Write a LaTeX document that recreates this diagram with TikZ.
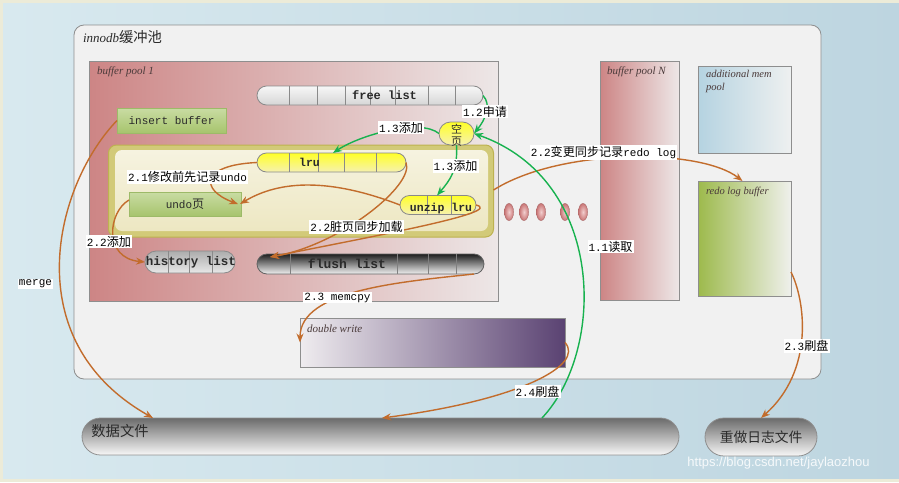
\documentclass[tikz,border=0pt]{standalone}
\usepackage{fontspec}
\setmainfont{Liberation Serif}
\setmonofont{Liberation Mono}
\setsansfont{Liberation Sans}
\newfontfamily\cjk[Scale=1.1]{Noto Sans CJK SC}
\usetikzlibrary{arrows.meta,calc}
\definecolor{beige}{HTML}{ECEBD8}
\definecolor{bgl}{HTML}{D8E9EF}
\definecolor{bgr}{HTML}{BDD5E0}
\definecolor{mainfill}{HTML}{F1F1F1}
\definecolor{maindraw}{HTML}{8E8E8E}
\definecolor{bpl}{HTML}{CD8585}
\definecolor{bpr}{HTML}{EDE7E7}
\definecolor{yout}{HTML}{D2CA78}
\definecolor{youtd}{HTML}{BDB250}
\definecolor{yint}{HTML}{F6F3E0}
\definecolor{yintm}{HTML}{DCD396}
\definecolor{yintb}{HTML}{EDE7C2}
\definecolor{yelt}{HTML}{FFFF28}
\definecolor{yelb}{HTML}{F6F1B0}
\definecolor{grt}{HTML}{C9DCA3}
\definecolor{grb}{HTML}{A7C46D}
\definecolor{grd}{HTML}{9DBA68}
\definecolor{gpt}{HTML}{F7F7F7}
\definecolor{gpb}{HTML}{D6D6D6}
\definecolor{divc}{HTML}{8A8A8A}
\definecolor{orng}{HTML}{C26C2C}
\definecolor{grn}{HTML}{17B24F}
\definecolor{ttlc}{HTML}{4A3A3A}
\definecolor{addl}{HTML}{B5D3E1}
\definecolor{addr}{HTML}{EEF0F0}
\definecolor{rlbl}{HTML}{9DBA4C}
\definecolor{rlbr}{HTML}{EFF0EC}
\definecolor{dwl}{HTML}{EFECEF}
\definecolor{dwr}{HTML}{5A4272}
\definecolor{darktxt}{HTML}{2A2A2A}
\definecolor{ellin}{HTML}{F2CFCF}
\definecolor{ellout}{HTML}{C97575}
\begin{document}
\begin{tikzpicture}[x=1pt,y=-1pt,
  every node/.style={inner sep=0pt,outer sep=0pt},
  boxnode/.style={draw=maindraw,line width=0.8pt,anchor=center},
  oarr/.style={draw=orng,line width=1.4pt,-{Stealth[length=9pt,width=7pt]}},
  garr/.style={draw=grn,line width=1.4pt,-{Stealth[length=9pt,width=7pt]}},
  lbl/.style={fill=white,inner sep=1pt,font=\fontsize{11}{12}\selectfont\ttfamily,text=black},
  ttl/.style={anchor=west,font=\fontsize{11}{12}\selectfont\itshape,text=ttlc},
  boldtxt/.style={font=\fontsize{12}{12}\selectfont\ttfamily\bfseries,text=darktxt},
  divline/.style={draw=divc,line width=0.6pt},
  yelpill/.style={boxnode,draw=divc,top color=yelt,bottom color=yelb},
  graypill/.style={boxnode,draw=divc,top color=gpt,bottom color=gpb},
  grbox/.style={boxnode,draw=grd,top color=grt,bottom color=grb},
]
% background
\fill[beige] (0,0) rectangle (899,482);
\shade[left color=bgl,right color=bgr] (3,3) rectangle (899,478);
\useasboundingbox (0,0) rectangle (899,482);

% main container
\node[boxnode,fill=mainfill,rounded corners=10pt,minimum width=747pt,minimum height=354pt] (main) at (447.5,202) {};
\node[anchor=west,font=\fontsize{13}{13}\selectfont,text=darktxt] (maint) at (83,37) {{\itshape innodb}{\cjk 缓冲池}};

% buffer pool 1
\node[boxnode,left color=bpl,right color=bpr,minimum width=409pt,minimum height=240pt] (bp1) at (293.5,181) {};
\node[ttl] (bp1t) at (97,72) {buffer pool 1};

% free list
\node[graypill,rounded corners=9.5pt,minimum width=226pt,minimum height=19pt] (fl) at (370,95.5) {};
\foreach \x in {289,317,345,370,395,428,455} \draw[divline] (\x,86) -- (\x,105);
\node[boxnode,draw=none,boldtxt] (flt) at (384.5,95.5) {free list};

% insert buffer
\node[grbox,minimum width=109pt,minimum height=25pt,font=\fontsize{11}{12}\selectfont\ttfamily,text=darktxt] (ib) at (171.5,120.5) {insert buffer};

% yellow container
\node[boxnode,draw=youtd,fill=yout,line width=1pt,rounded corners=8pt,minimum width=385pt,minimum height=92pt] (yc) at (301,191) {};
\shade[top color=yint,middle color=yintm,bottom color=yintb,rounded corners=7pt] (115,150) rectangle (488,231);

% empty page
\node[yelpill,rounded corners=11.5pt,minimum width=35pt,minimum height=23pt] (kp) at (456.5,133.5) {};
\node[align=center,font=\fontsize{10}{12}\selectfont\cjk,text=darktxt] (kpt) at (456.5,135) {空\\页};

% lru
\node[yelpill,rounded corners=9.5pt,minimum width=149pt,minimum height=19pt] (lru) at (331.5,162.5) {};
\foreach \x in {289,318,344,376} \draw[divline] (\x,153) -- (\x,172);
\node[boldtxt,font=\fontsize{11.5}{12}\selectfont\ttfamily\bfseries] (lrut) at (309.5,162) {lru};

% unzip lru
\node[yelpill,rounded corners=9.5pt,minimum width=76pt,minimum height=19pt] (uz) at (438,205) {};
\foreach \x in {427,451} \draw[divline] (\x,195.5) -- (\x,214.5);
\node[boldtxt,font=\fontsize{11.5}{12}\selectfont\ttfamily\bfseries] (uzt) at (441,209) {unzip lru};

% undo page
\node[grbox,minimum width=112pt,minimum height=24pt,font=\fontsize{11}{12}\selectfont\ttfamily,text=darktxt] (ud) at (185,204) {undo{\cjk 页}};

% history list
\node[boxnode,draw=divc,top color=gray!65,bottom color=gray!18,rounded corners=11pt,minimum width=90pt,minimum height=22pt] (hl) at (190,262) {};
\foreach \x in {168,189,212} \draw[divline] (\x,251) -- (\x,273);
\node[boldtxt,font=\fontsize{12.5}{12}\selectfont\ttfamily\bfseries] (hlt) at (191,262) {history list};

% flush list
\node[boxnode,draw=divc!70!black,top color=black!88,bottom color=white!95!black,rounded corners=10pt,minimum width=227pt,minimum height=20pt] (fls) at (370.5,264) {};
\foreach \x in {290,397,428,456} \draw[divline,draw=gray] (\x,254) -- (\x,274);
\node[boldtxt,font=\fontsize{13}{12}\selectfont\ttfamily\bfseries] (flst) at (347,264) {flush list};

% ellipses
\foreach \x in {509,524,541,565,583}
  \shade[inner color=ellin,outer color=ellout,draw=ellout!80!black,line width=0.3pt] (\x,212) ellipse [x radius=4.6pt,y radius=8.6pt];

% buffer pool N
\node[boxnode,left color=bpl,right color=bpr,minimum width=79pt,minimum height=239pt] (bpn) at (639.5,180.5) {};
\node[ttl] (bpnt) at (607,72) {buffer pool N};

% additional mem pool
\node[boxnode,left color=addl,right color=addr,minimum width=93pt,minimum height=87pt] (amp) at (744.5,109.5) {};
\node[ttl,anchor=north west,align=left,font=\fontsize{10.5}{13}\selectfont\itshape] (ampt) at (706,70) {additional mem\\pool};

% redo log buffer
\node[boxnode,left color=rlbl,right color=rlbr,minimum width=93pt,minimum height=115pt] (rlb) at (744.5,238.5) {};
\node[ttl,font=\fontsize{10.5}{12}\selectfont\itshape] (rlbt) at (706,192) {redo log buffer};

% double write
\node[boxnode,left color=dwl,right color=dwr,minimum width=265pt,minimum height=49pt] (dw) at (432.5,342.5) {};
\node[ttl] (dwt) at (307,329) {double write};

% data file
\node[boxnode,draw=maindraw,top color=black!58,bottom color=white!97!black,rounded corners=18.5pt,minimum width=597pt,minimum height=37pt] (df) at (380.5,436.5) {};
\node[font=\fontsize{13}{14}\selectfont\cjk,text=darktxt] (dft) at (120,431) {数据文件};

% redo log file
\node[boxnode,draw=maindraw,top color=black!58,bottom color=white!97!black,rounded corners=19pt,minimum width=112pt,minimum height=38pt] (rdf) at (761,437) {};
\node[font=\fontsize{12.5}{14}\selectfont\cjk,text=darktxt] (rdft) at (761,437) {重做日志文件};

% orange connectors
\draw[oarr] (ib.west) .. controls (55,185) and (15,340) .. (df.north -| 153,0);
\draw[oarr] (lru.west) .. controls (200,165) and (200,190) .. ([xshift=-3pt]ud.east);
\draw[oarr] (uz.west) .. controls (330,178) and (280,180) .. ([xshift=-1pt]ud.east);
\draw[oarr] ([yshift=4pt]ud.west) .. controls (108,212) and (103,258) .. (hl.west);
\draw[oarr] (lru.east) .. controls (415,185) and (340,245) .. ([xshift=13pt,yshift=-3pt]fls.north west);
\draw[oarr] (uz.east) .. controls (505,212) and (380,235) .. ([xshift=13pt,yshift=-3pt]fls.north west);
\draw[oarr] ([yshift=1pt]yc.east) .. controls (560,148) and (700,148) .. ([xshift=-2pt]rlb.north);
\draw[oarr] ([xshift=-10pt]fls.south east) .. controls (400,282) and (300,290) .. (dw.west);
\draw[oarr] (dw.east) .. controls (585,365) and (520,400) .. (df.north -| 382,0);
\draw[oarr] ([yshift=24pt]rlb.south east) .. controls (805,300) and (815,370) .. (rdf.north);

% green connectors
\draw[garr] (df.north -| 542,0) .. controls (606,350) and (606,180) .. (kp.east);
\draw[garr] (fl.east) .. controls (492,105) and (485,120) .. (kp.east);
\draw[garr] (kp.west) .. controls (420,118) and (360,135) .. (lru.north -| 333,0);
\draw[garr] (kp.south) .. controls (458,170) and (450,180) .. (uz.north -| 437,0);

% labels
\node[lbl] (lmerge) at (35.5,284) {merge};
\node[lbl] (l21) at (187.5,177) {2.1{\cjk 修改前先记录}undo};
\node[lbl] (l22a) at (109,241.5) {2.2{\cjk 添加}};
\node[lbl] (l22b) at (356.5,227) {2.2{\cjk 脏页同步加载}};
\node[lbl] (l22c) at (603.5,152.5) {2.2{\cjk 变更同步记录}redo log};
\node[lbl] (l23a) at (337.5,297.5) {2.3 memcpy};
\node[lbl] (l24) at (537.5,391.5) {2.4{\cjk 刷盘}};
\node[lbl] (l23b) at (806.5,346) {2.3{\cjk 刷盘}};
\node[lbl] (l11) at (610.5,246.5) {1.1{\cjk 读取}};
\node[lbl] (l12) at (485,111.5) {1.2{\cjk 申请}};
\node[lbl] (l13a) at (401,127.5) {1.3{\cjk 添加}};
\node[lbl] (l13b) at (455.5,166) {1.3{\cjk 添加}};

% watermark
\node[font=\fontsize{13}{14}\selectfont\sffamily,text=white,opacity=0.85] (wm) at (778.5,463.5) {https://blog.csdn.net/jaylaozhou};
\end{tikzpicture}
\end{document}
